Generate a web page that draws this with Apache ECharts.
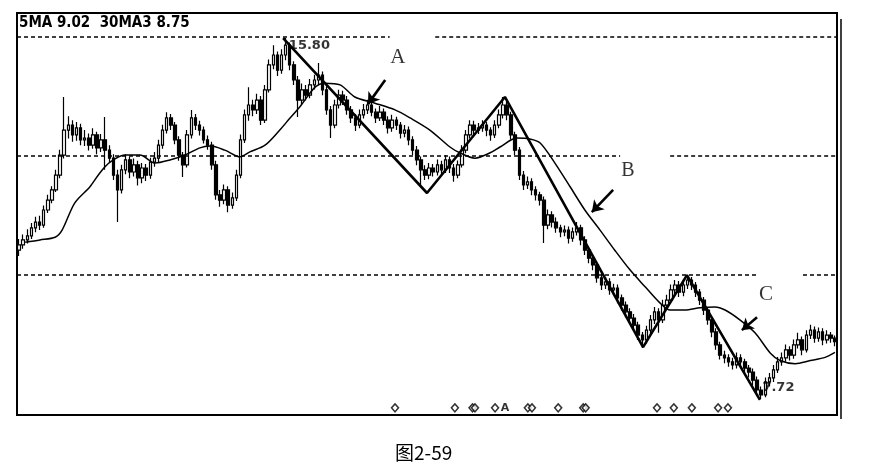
<!DOCTYPE html>
<html>
<head>
<meta charset="utf-8">
<script src="https://cdn.jsdelivr.net/npm/echarts@6/dist/echarts.min.js"></script>
<style>html,body{margin:0;padding:0;background:#fff;}#c{width:886px;height:473px;}</style>
</head>
<body>
<div id="c"></div>
<script>
// ---- data (prices) ----
const opens = [
11.05,11.17,11.28,11.37,11.55,11.68,11.61,11.95,12.17,12.40,
12.73,13.18,13.74,13.85,13.63,13.79,13.52,13.56,13.40,13.63,
13.34,13.52,13.29,13.11,12.73,12.40,12.85,13.07,12.80,12.96,
12.67,12.89,12.73,13.02,13.11,13.40,13.74,14.01,13.85,13.52,
13.18,12.96,13.63,14.01,13.85,13.74,13.52,13.40,12.96,12.29,
12.17,12.40,12.06,12.22,12.73,13.52,14.08,14.30,14.19,14.41,
13.96,14.64,15.20,15.42,15.08,15.42,15.64,15.20,14.86,14.41,
14.64,14.52,14.75,14.86,14.97,14.64,14.19,13.85,14.30,14.52,
14.41,14.19,14.01,13.85,14.08,14.19,14.30,14.14,14.01,14.14,
13.96,13.79,13.96,13.85,13.67,13.74,13.52,13.29,13.07,12.85,
12.73,12.89,12.80,12.96,12.85,13.07,12.89,12.73,12.96,13.29,
13.63,13.85,13.74,13.79,13.85,13.74,13.63,13.85,14.08,14.30,
14.08,13.63,13.29,12.73,12.51,12.58,12.40,12.29,12.17,11.61,
11.84,11.68,11.55,11.46,11.50,11.32,11.46,11.55,11.28,11.05,
10.87,10.72,10.43,10.27,10.34,10.16,10.20,9.98,9.82,9.67,
9.53,9.37,9.15,9.04,9.26,9.49,9.67,9.49,9.82,9.93,
10.16,10.27,10.11,10.27,10.38,10.27,10.11,9.93,9.71,9.49,
9.22,8.93,8.70,8.64,8.55,8.48,8.64,8.55,8.41,8.32,
8.14,7.92,7.81,8.10,8.19,8.37,8.55,8.64,8.82,8.70,
8.93,9.04,8.82,9.15,9.26,9.08,9.22,9.04,9.15,9.08];
const closes = [
11.17,11.28,11.37,11.55,11.68,11.61,11.95,12.17,12.40,12.73,
13.18,13.74,13.85,13.63,13.79,13.52,13.56,13.40,13.63,13.34,
13.52,13.29,13.11,12.73,12.40,12.85,13.07,12.80,12.96,12.67,
12.89,12.73,13.02,13.11,13.40,13.74,14.01,13.85,13.52,13.18,
12.96,13.63,14.01,13.85,13.74,13.52,13.40,12.96,12.29,12.17,
12.40,12.06,12.22,12.73,13.52,14.08,14.30,14.19,14.41,13.96,
14.64,15.20,15.42,15.08,15.42,15.64,15.20,14.86,14.41,14.64,
14.52,14.75,14.86,14.97,14.64,14.19,13.85,14.30,14.52,14.41,
14.19,14.01,13.85,14.08,14.19,14.30,14.14,14.01,14.14,13.96,
13.79,13.96,13.85,13.67,13.74,13.52,13.29,13.07,12.85,12.73,
12.89,12.80,12.96,12.85,13.07,12.89,12.73,12.96,13.29,13.63,
13.85,13.74,13.79,13.85,13.74,13.63,13.85,14.08,14.30,14.08,
13.63,13.29,12.73,12.51,12.58,12.40,12.29,12.17,11.61,11.84,
11.68,11.55,11.46,11.50,11.32,11.46,11.55,11.28,11.05,10.87,
10.72,10.43,10.27,10.34,10.16,10.20,9.98,9.82,9.67,9.53,
9.37,9.15,9.04,9.26,9.49,9.67,9.49,9.82,9.93,10.16,
10.27,10.11,10.27,10.38,10.27,10.11,9.93,9.71,9.49,9.22,
8.93,8.70,8.64,8.55,8.48,8.64,8.55,8.41,8.32,8.14,
7.92,7.81,8.10,8.19,8.37,8.55,8.64,8.82,8.70,8.93,
9.04,8.82,9.15,9.26,9.08,9.22,9.04,9.15,9.08,9.00];
const lows = [
10.92,11.08,11.20,11.30,11.45,11.50,11.55,11.88,12.10,12.35,
12.66,13.10,13.55,13.48,13.50,13.40,13.38,13.28,13.32,13.20,
13.25,12.85,13.00,12.62,11.68,12.32,12.75,12.66,12.70,12.50,
12.55,12.60,12.65,12.92,13.02,13.32,13.66,13.74,13.42,13.05,
12.69,12.90,13.55,13.74,13.62,13.44,13.30,12.85,12.18,12.02,
12.08,11.90,11.98,12.15,12.66,13.45,13.95,14.05,14.10,13.85,
13.90,14.58,15.10,14.95,15.00,15.30,15.08,14.75,14.03,14.30,
14.40,14.45,14.65,14.75,14.52,14.08,13.56,13.78,14.22,14.30,
14.08,13.90,13.72,13.78,14.00,14.10,14.05,13.90,13.94,13.85,
13.66,13.70,13.74,13.55,13.58,13.40,13.18,12.95,12.46,12.62,
12.64,12.70,12.72,12.74,12.78,12.78,12.58,12.66,12.90,13.22,
13.55,13.62,13.65,13.70,13.60,13.50,13.56,13.78,14.00,13.96,
13.52,13.18,12.62,12.40,12.42,12.28,12.16,12.05,11.21,11.52,
11.56,11.44,11.34,11.36,11.20,11.24,11.38,11.16,10.94,10.76,
10.60,10.32,10.16,10.18,10.05,10.06,9.86,9.70,9.55,9.42,
9.26,9.04,8.86,8.96,9.18,9.40,9.20,9.42,9.74,9.86,
10.06,10.00,10.02,10.18,10.16,10.00,9.82,9.60,9.38,9.10,
8.82,8.60,8.52,8.44,8.38,8.40,8.44,8.30,8.20,8.02,
7.82,7.72,7.76,8.00,8.10,8.30,8.46,8.55,8.58,8.62,
8.85,8.70,8.76,9.06,8.98,9.00,8.92,8.96,8.98,8.90];
const highs = [
11.30,11.40,11.52,11.66,11.80,11.82,12.05,12.29,12.48,12.85,
13.30,14.48,14.05,13.96,13.92,13.88,13.74,13.66,13.78,13.70,
13.65,14.03,13.40,13.20,12.85,12.96,13.20,13.14,13.10,13.05,
13.00,12.98,13.12,13.25,13.52,13.86,14.14,14.10,13.92,13.60,
13.25,13.74,14.19,14.10,13.95,13.82,13.62,13.48,13.05,12.40,
12.52,12.48,12.34,12.85,13.64,14.20,14.70,14.42,14.55,14.50,
14.75,15.32,15.64,15.50,15.55,15.80,15.70,15.28,14.95,14.78,
14.75,14.88,14.98,15.24,15.05,14.72,14.28,14.42,14.64,14.62,
14.50,14.28,14.10,14.20,14.32,14.42,14.40,14.22,14.28,14.22,
14.05,14.08,14.04,13.92,13.85,13.82,13.60,13.38,13.15,12.95,
13.00,12.98,13.08,13.05,13.18,13.15,12.98,13.06,13.40,13.74,
13.96,13.95,13.90,13.96,13.92,13.80,13.96,14.20,14.48,14.38,
14.15,13.70,13.36,12.82,12.70,12.66,12.48,12.36,12.25,11.96,
11.92,11.78,11.62,11.60,11.58,11.56,11.68,11.62,11.36,11.12,
10.95,10.80,10.52,10.45,10.42,10.30,10.28,10.06,9.90,9.75,
9.62,9.45,9.22,9.36,9.60,9.78,9.75,9.94,10.05,10.28,
10.38,10.36,10.40,10.49,10.45,10.34,10.18,10.00,9.78,9.56,
9.30,9.00,8.80,8.72,8.64,8.76,8.72,8.62,8.48,8.40,
8.22,8.00,8.20,8.30,8.48,8.66,8.76,8.94,8.90,9.05,
9.20,9.12,9.26,9.38,9.34,9.32,9.30,9.26,9.22,9.14];

// 30-day moving average at points along the curve (day index, price)
const ma30Days = [1.5,5.1,8.8,10.5,13.6,17.3,19.7,22.2,25.8,29.5,33.2,36.8,40.5,44.1,46.6,50.2,53.9,56.3,60.0,63.6,66.1,68.5,72.2,74.6,78.3,81.9,86.8,91.7,95.4,100.2,105.1,107.5,111.2,114.9,117.3,121.4,124.6,127.1,130.7,134.4,138.0,141.7,145.3,149.0,152.7,156.3,158.8,162.4,166.1,169.7,172.2,175.8,179.5,183.2,185.6,189.3,193.0,196.6,199.0];
const ma30Values = [11.23,11.28,11.34,11.50,12.11,12.47,12.78,13.02,13.18,13.18,13.00,13.07,13.18,13.34,13.38,13.29,13.14,13.25,13.40,13.74,14.01,14.26,14.70,14.79,14.75,14.48,14.34,14.19,14.01,13.74,13.36,13.23,13.11,13.23,13.36,13.56,13.54,13.45,13.00,12.47,11.95,11.50,11.05,10.61,10.23,9.87,9.71,9.71,9.76,9.78,9.71,9.49,9.20,8.75,8.58,8.51,8.58,8.65,8.76];

// drawn trend zigzag (turning points)
const zigzagDays = [64.4, 99.5, 118.5, 152.2, 162.9, 180.7];
const zigzagValues = [15.80, 12.33, 14.48, 8.88, 10.49, 7.70];

// signal diamonds along the bottom
const signalDays = [91.7,106.3,110.6,111.2,116.1,124.1,125.1,131.5,137.6,138.2,155.6,159.7,164.1,170.5,172.9];
const signalLevel = 7.52;

// dashed reference price levels
const refLevels = [15.82, 13.16, 10.49];

const days = closes.map((_, i) => String(i + 1));
const candleData = closes.map((c, i) => [opens[i], c, lows[i], highs[i]]);

const N = closes.length;
const X0 = -0.5, X1 = N - 0.5;
// gaps in the dashed lines (where the text labels sit)
const refSegments = [
  [[X0, 90.4], [101.5, X1]],
  [[X0, 146.6], [158.8, X1]],
  [[X0, 180.0], [191.2, X1]]
];
const dashData = [];
refLevels.forEach((lv, k) => {
  refSegments[k].forEach(s => dashData.push([{coord: [s[0], lv]}, {coord: [s[1], lv]}]));
});

const arrows = [
  [[89.3, 14.86], [85.1, 14.32]],
  [[144.9, 12.40], [139.7, 11.90]],
  [[180.0, 9.55], [176.3, 9.26]]
];

const chart = echarts.init(document.getElementById('c'), null, {renderer: 'canvas'});
const serif = '"Liberation Serif", "DejaVu Serif", serif';
const bold = '"DejaVu Sans", sans-serif';

chart.setOption({
  animation: false,
  backgroundColor: '#fff',
  grid: {left: 17, top: 13, width: 820, height: 402, show: true, borderColor: '#000', borderWidth: 2, backgroundColor: 'transparent'},
  xAxis: [
    {type: 'category', data: days, boundaryGap: true, show: false},
    {type: 'value', min: X0, max: X1, show: false}
  ],
  yAxis: {type: 'value', min: 7.36, max: 16.36, show: false, splitLine: {show: false}},
  graphic: [
    {type: 'line', shape: {x1: 841, y1: 19, x2: 841, y2: 419}, style: {stroke: '#000', lineWidth: 1.5}},
    {type: 'text', left: 19, top: 16, style: {text: '5MA 9.02  30MA3 8.75', fontFamily: '"DejaVu Sans Condensed", "DejaVu Sans", sans-serif', fontWeight: 'bold', fontSize: 15, fill: '#000'}},
    {type: 'text', left: 395, top: 443, style: {text: '图2-59', fontFamily: '"Noto Sans CJK SC", sans-serif', fontSize: 19, fill: '#000'}}
  ],
  series: [
    {
      type: 'candlestick', xAxisIndex: 0, data: candleData, barWidth: 3,
      itemStyle: {color: '#fff', color0: '#000', borderColor: '#000', borderColor0: '#000', borderWidth: 1.2}
    },
    {
      type: 'line', xAxisIndex: 1, data: ma30Days.map((d, i) => [d, ma30Values[i]]),
      smooth: 0.3, showSymbol: false, lineStyle: {color: '#000', width: 1.5},
      markLine: {silent: true, symbol: ['none', 'none'], label: {show: false},
        lineStyle: {color: '#000', type: [4, 3], width: 1.6}, data: dashData}
    },
    {
      type: 'line', xAxisIndex: 1, data: zigzagDays.map((d, i) => [d, zigzagValues[i]]),
      showSymbol: false, lineStyle: {color: '#000', width: 2.6},
      markLine: {silent: true, symbol: ['none', 'arrow'], symbolSize: 11, label: {show: false},
        lineStyle: {color: '#000', type: 'solid', width: 2.6},
        data: arrows.map(a => [{coord: a[0]}, {coord: a[1]}])}
    },
    {
      type: 'scatter', xAxisIndex: 1, symbol: 'diamond', symbolSize: [7, 8],
      itemStyle: {color: '#fff', borderColor: '#000', borderWidth: 1.5},
      data: signalDays.map(d => [d, signalLevel])
    },
    {
      type: 'scatter', xAxisIndex: 1, symbolSize: 0, silent: true,
      data: [
        {value: [92.4, 15.37], label: {show: true, position: 'inside', formatter: 'A', fontFamily: serif, fontSize: 21, color: '#000'}},
        {value: [148.5, 12.82], label: {show: true, position: 'inside', formatter: 'B', fontFamily: serif, fontSize: 20, color: '#000'}},
        {value: [182.2, 10.05], label: {show: true, position: 'inside', formatter: 'C', fontFamily: serif, fontSize: 21, color: '#000'}},
        {value: [65.8, 15.64], label: {show: true, position: 'right', distance: 0, formatter: '15.80', fontFamily: bold, fontWeight: 'bold', fontSize: 13, color: '#000'}},
        {value: [181.3, 7.97], label: {show: true, position: 'right', distance: 0, formatter: '7.72', fontFamily: bold, fontWeight: 'bold', fontSize: 13, color: '#000'}},
        {value: [118.5, 7.52], label: {show: true, position: 'inside', formatter: 'A', fontFamily: bold, fontWeight: 'bold', fontSize: 11, color: '#000'}}
      ]
    }
  ]
});
</script>
</body>
</html>
